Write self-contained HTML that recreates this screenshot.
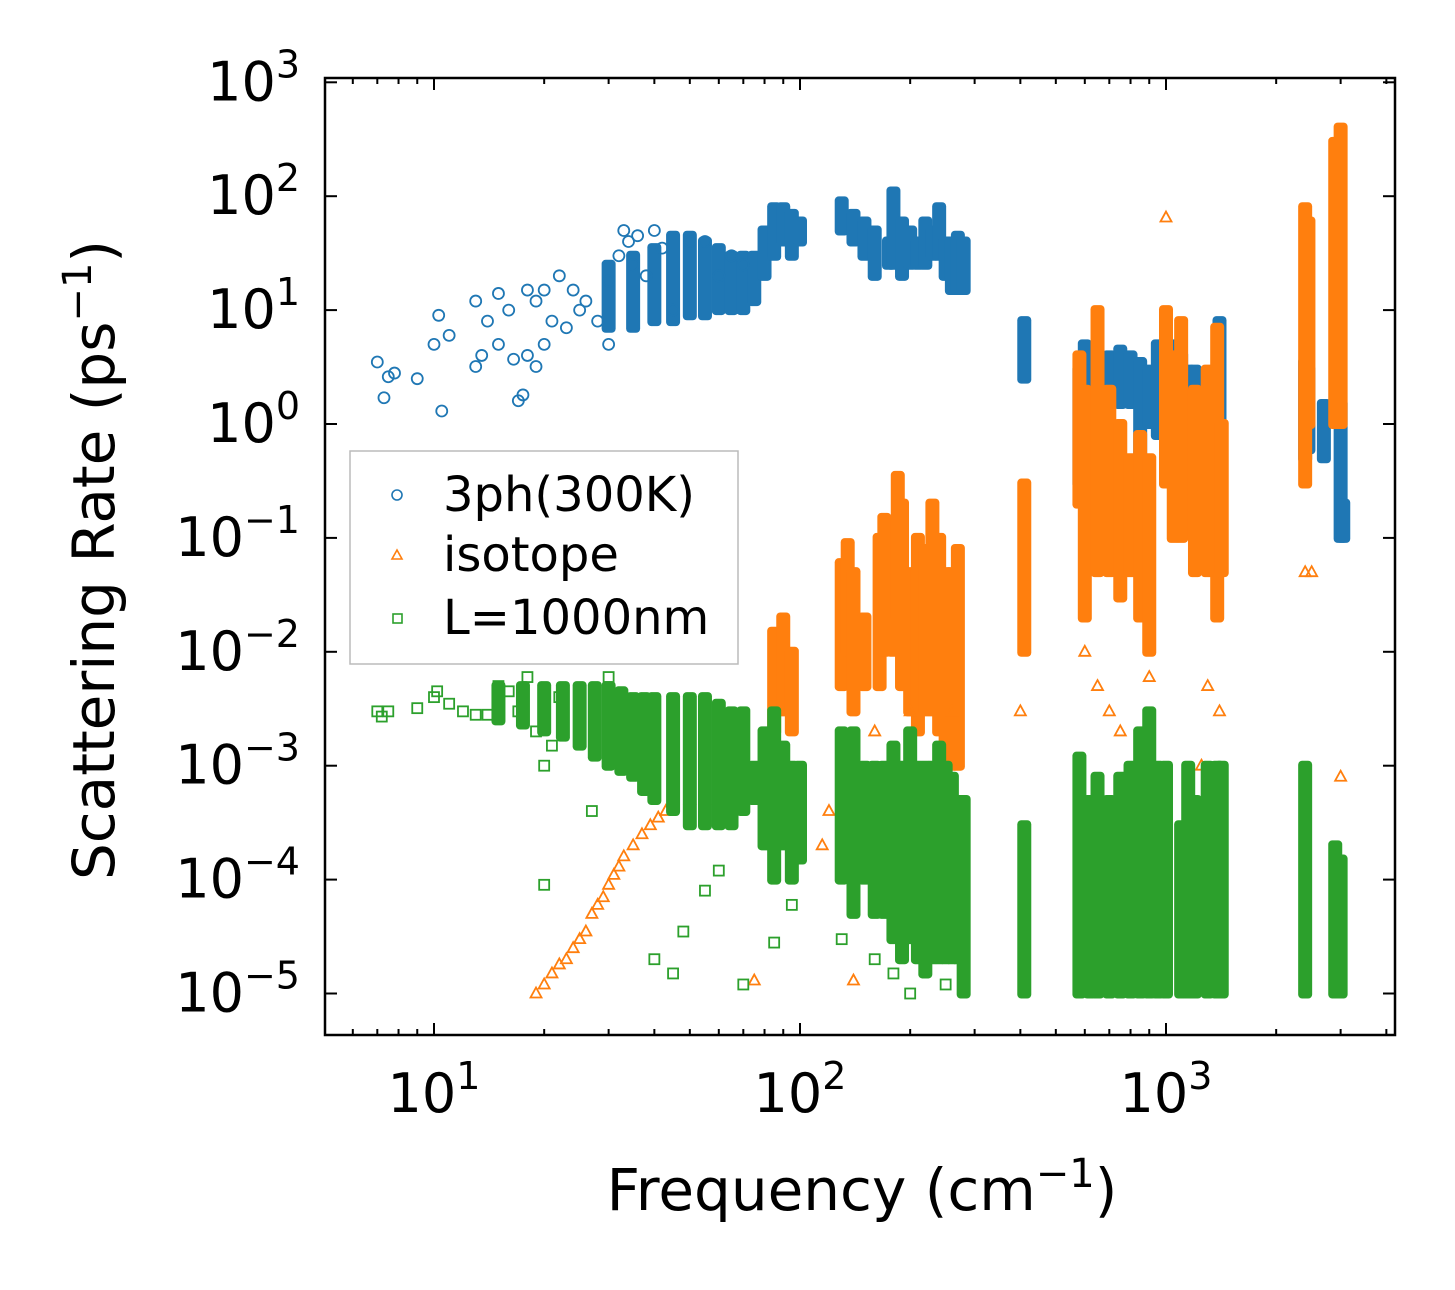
<!DOCTYPE html>
<html><head><meta charset="utf-8"><style>
html,body{margin:0;padding:0;background:#fff;}
svg text{font-family:"DejaVu Sans","Liberation Sans",sans-serif;fill:#000;}
</style></head><body>
<svg id="chart" width="1455" height="1285" viewBox="0 0 1455 1285" xmlns="http://www.w3.org/2000/svg">
<rect x="0" y="0" width="1455" height="1285" fill="#fff"/>
<g id="marks"></g>
<g id="axes"></g>
<text x="862" y="1210" font-size="58" text-anchor="middle">Frequency (cm<tspan font-size="40" dy="-23">−1</tspan><tspan dy="23">)</tspan></text>
<text transform="translate(114,560) rotate(-90)" font-size="58" text-anchor="middle">Scattering Rate (ps<tspan font-size="40" dy="-23">−1</tspan><tspan dy="23">)</tspan></text>
<g>
<rect x="350" y="451" width="388" height="213" fill="#fff" stroke="#bbb" stroke-width="1.5"/>
<circle cx="397" cy="495" r="5" fill="none" stroke="#1f77b4" stroke-width="1.6"/>
<text x="443" y="511" font-size="48">3ph(300K)</text>
<polygon points="397,550 402,559 392,559" fill="none" stroke="#ff7f0e" stroke-width="1.6"/>
<text x="443" y="571" font-size="48">isotope</text>
<rect x="393" y="614" width="9" height="9" fill="none" stroke="#2ca02c" stroke-width="1.6"/>
<text x="443" y="634" font-size="48">L=1000nm</text>
</g>
</svg>
<script>
// ---- data ----
const xTicks = [10, 100, 1000];
const xTickLabels = ["1", "2", "3"];
const yTicks = [1e3, 1e2, 1e1, 1e0, 1e-1, 1e-2, 1e-3, 1e-4, 1e-5];
const yTickLabels = ["3", "2", "1", "0", "−1", "−2", "−3", "−4", "−5"];

const blueFreq = [7,7.3,7.5,7.8,9,10,10.3,10.5,11,13,13,13.5,14,15,15,16,16.5,17,17.5,18,18,19,19,20,20,21,22,23,24,25,26,28,30,30,32,33,34,35,36,38,40,42,45,50,55,60,65,70];
const blueRate = [3.5,1.7,2.6,2.8,2.5,5,9,1.3,6,3.2,12,4,8,5,14,10,3.7,1.6,1.8,4,15,3.2,12,5,15,8,20,7,15,10,12,8,18,5,30,50,40,25,45,20,50,35,10,40,40,20,30,25];
const blueBandFreq = [30,35,40,45,50,55,60,65,70,75,80,85,90,95,100,130,140,150,160,175,180,190,200,210,220,230,240,250,260,270,280,410,580,600,620,650,700,750,800,850,900,950,1000,1060,1100,1150,1200,1300,1400,2400,2450,2700,3000,3050];
const blueBandLo = [7,7,8,8,9,9,10,10,10,12,20,30,40,30,40,50,40,30,20,25,25,20,25,25,25,30,30,20,15,15,15,2.5,0.3,0.3,0.8,0.8,2,1.5,1.5,0.5,1,0.8,0.5,1,0.5,1,1,0.3,0.3,0.5,0.6,0.5,0.1,0.1];
const blueBandHi = [25,30,35,45,45,40,35,30,30,30,50,80,80,70,60,90,70,60,50,40,110,60,50,40,60,50,80,40,40,45,40,8,3,5,3,3,4,4.5,4,3.5,3,5,5,5,4,3,3,2,8,3.5,3,1.5,1.5,0.2];

const orangeFreq = [19,20,21,22,23,24,25,26,27,28,29,30,31,32,33,35,37,39,41,43,45,50,55,60,75,140,120,115,160,150,200,260,400,600,650,700,750,900,1000,1250,1300,1400,2400,2500,3000];
const orangeRate = [1e-5,1.2e-5,1.5e-5,1.8e-5,2e-5,2.5e-5,3e-5,3.5e-5,5e-5,6e-5,7e-5,9e-5,1.1e-4,1.3e-4,1.6e-4,2e-4,2.5e-4,3e-4,3.5e-4,4e-4,4.5e-4,5e-4,5e-4,5e-4,1.3e-5,1.3e-5,4e-4,2e-4,2e-3,3e-4,3e-3,3e-3,3e-3,1e-2,5e-3,3e-3,2e-3,6e-3,65,1e-3,5e-3,3e-3,0.05,0.05,8e-4];
const orangeBandFreq = [85,90,95,130,135,140,150,165,170,180,185,190,200,210,220,230,240,250,260,270,410,580,600,650,700,750,800,850,900,1000,1050,1100,1200,1300,1380,1420,2400,2450,2900,3000];
const orangeBandLo = [2e-3,3e-3,2e-3,5e-3,1e-2,3e-3,5e-3,5e-3,1e-2,1e-2,2e-2,5e-3,3e-3,2e-3,3e-3,3e-3,2e-3,1e-3,1e-3,1e-3,1e-2,0.2,0.02,0.05,0.05,0.03,0.05,0.02,0.01,0.3,0.1,0.1,0.05,0.05,0.02,0.05,0.3,1,1,1];
const orangeBandHi = [1.5e-2,2e-2,1e-2,6e-2,9e-2,5e-2,2e-2,0.1,0.15,0.1,0.35,0.2,0.05,0.1,0.08,0.2,0.1,0.05,0.05,0.08,0.3,4,2,10,2,1,0.5,0.8,0.5,10,4,8,2,3,7,1,80,60,300,400];

const greenFreq = [7,7.2,7.5,9,10,10.2,11,12,13,14,15,16,17,18,19,20,20,21,22,25,27,30,40,45,48,55,60,70,85,95,130,160,180,200,250];
const greenRate = [3e-3,2.7e-3,3e-3,3.2e-3,4e-3,4.5e-3,3.5e-3,3e-3,2.8e-3,2.8e-3,5e-3,4.5e-3,3e-3,6e-3,2e-3,1e-3,9e-5,1.5e-3,4e-3,2e-3,4e-4,6e-3,2e-5,1.5e-5,3.5e-5,8e-5,1.2e-4,1.2e-5,2.8e-5,6e-5,3e-5,2e-5,1.5e-5,1e-5,1.2e-5];
const greenBandFreq = [15,17.5,20,22.5,25,27.5,30,32.5,35,37.5,40,45,50,55,60,65,70,75,80,85,90,95,100,130,140,150,160,170,180,190,200,210,220,230,240,250,260,270,280,410,580,620,650,700,750,800,850,900,950,1000,1100,1150,1200,1300,1380,1420,2400,2900,3000];
const greenBandLo = [2.5e-3,2.3e-3,2e-3,1.8e-3,1.5e-3,1.2e-3,1e-3,9e-4,8e-4,6e-4,5e-4,4e-4,3e-4,3e-4,3e-4,3e-4,4e-4,5e-4,2e-4,1e-4,2e-4,1e-4,1.5e-4,1e-4,5e-5,1e-4,5e-5,5e-5,3e-5,2e-5,3e-5,2e-5,1.5e-5,2e-5,2e-5,2e-5,2e-5,2e-5,1e-5,1e-5,1e-5,1e-5,1e-5,1e-5,1e-5,1e-5,1e-5,1e-5,1e-5,1e-5,1e-5,1e-5,1e-5,1e-5,1e-5,1e-5,1e-5,1e-5,1e-5];
const greenBandHi = [5e-3,5e-3,5e-3,5e-3,5e-3,5e-3,5e-3,4.5e-3,4e-3,4e-3,4e-3,4e-3,4e-3,4e-3,3.5e-3,3e-3,3e-3,1e-3,2e-3,3e-3,1.5e-3,1e-3,1e-3,2e-3,2e-3,1e-3,1e-3,1e-3,1.5e-3,1e-3,2e-3,1e-3,1e-3,1e-3,1.5e-3,1e-3,8e-4,5e-4,5e-4,3e-4,1.2e-3,5e-4,8e-4,5e-4,8e-4,1e-3,2e-3,3e-3,1e-3,1e-3,3e-4,1e-3,5e-4,1e-3,1e-3,1e-3,1e-3,2e-4,1.5e-4];

// ---- axes ----
const L=325,R=1395,T=78,B=1035;
function X(f){return 434+366*Math.log10(f/10);}
function Y(r){return 424-113.9*Math.log10(r);}
const NS="http://www.w3.org/2000/svg";
function mk(tag,attrs,parent){const e=document.createElementNS(NS,tag);for(const k in attrs)e.setAttribute(k,attrs[k]);parent.appendChild(e);return e;}
const marks=document.getElementById('marks');
const axes=document.getElementById('axes');
const BLUE="#1f77b4",ORANGE="#ff7f0e",GREEN="#2ca02c";

function band(freqs,lo,hi,color,name){
  for(let i=0;i<freqs.length;i++){
    const x=X(freqs[i]),y1=Y(hi[i]),y2=Y(lo[i]);
    const e=mk('rect',{x:x-7,y:y1-5,width:14,height:Math.max(10,y2-y1+10),rx:4,fill:color},marks);
    
    
  }
}
function circles(fs,rs,name){
  for(let i=0;i<fs.length;i++){
    const e=mk('circle',{cx:X(fs[i]),cy:Y(rs[i]),r:5.5,fill:'none',stroke:BLUE,'stroke-width':1.8},marks);
    
    
  }
}
function tris(fs,rs,name){
  for(let i=0;i<fs.length;i++){
    const x=X(fs[i]),y=Y(rs[i]);
    const e=mk('polygon',{points:`${x},${y-6} ${x+5.5},${y+4} ${x-5.5},${y+4}`,fill:'none',stroke:ORANGE,'stroke-width':1.8},marks);
    
    
  }
}
function squares(fs,rs,name){
  for(let i=0;i<fs.length;i++){
    const x=X(fs[i]),y=Y(rs[i]);
    const e=mk('rect',{x:x-5,y:y-5,width:10,height:10,fill:'none',stroke:GREEN,'stroke-width':1.8},marks);
    
    
  }
}
band(blueBandFreq,blueBandLo,blueBandHi,BLUE,'3ph-dense-band');
circles(blueFreq,blueRate,'3ph-point');
band(orangeBandFreq,orangeBandLo,orangeBandHi,ORANGE,'isotope-dense-band');
tris(orangeFreq,orangeRate,'isotope-point');
band(greenBandFreq,greenBandLo,greenBandHi,GREEN,'boundary-dense-band');
squares(greenFreq,greenRate,'boundary-point');

// frame
const fr=mk('rect',{x:L,y:T,width:R-L,height:B-T,fill:'none',stroke:'#000','stroke-width':2.5},axes);



// x ticks
for(let d=1;d<=1000;d*=10){
  for(let m=1;m<10;m++){
    const f=d*m, x=X(f);
    if(x<L||x>R) continue;
    const len=(m===1)?12:6;
    const t1=mk('line',{x1:x,y1:B,x2:x,y2:B-len,stroke:'#000','stroke-width':2},axes);
    
    
    const t2=mk('line',{x1:x,y1:T,x2:x,y2:T+len,stroke:'#000','stroke-width':2},axes);
    
    
  }
}
for(let i=0;i<xTicks.length;i++){
  const x=X(xTicks[i]);
  const t=mk('text',{x:x,y:1112,'font-size':54,'text-anchor':'middle'},axes);
  
  
  t.innerHTML='10<tspan font-size="38" dy="-23">'+xTickLabels[i]+'</tspan>';
}
// y ticks
for(let i=0;i<yTicks.length;i++){
  const y=Y(yTicks[i]);
  const a=mk('line',{x1:L,y1:y,x2:L+12,y2:y,stroke:'#000','stroke-width':2},axes);
  
  
  const b=mk('line',{x1:R,y1:y,x2:R-12,y2:y,stroke:'#000','stroke-width':2},axes);
  
  
  const t=mk('text',{x:300,y:y+18,'font-size':54,'text-anchor':'end'},axes);
  
  
  t.innerHTML='10<tspan font-size="38" dy="-23">'+yTickLabels[i]+'</tspan>';
}
</script>
</body></html>
